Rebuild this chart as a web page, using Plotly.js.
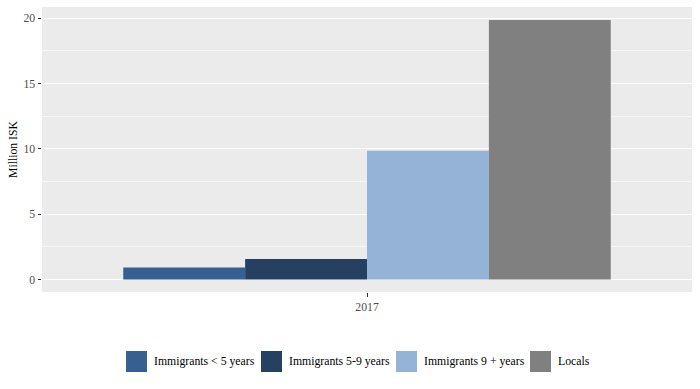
<!DOCTYPE html>
<html>
<head>
<meta charset="utf-8">
<script src="https://cdn.plot.ly/plotly-3.0.1.min.js"></script>
<style>html,body{margin:0;padding:0;background:#fff;}#chart{width:700px;height:389px;}</style>
</head>
<body>
<div id="chart"></div>
<script>
const categories = ["2017"];
const seriesNames = ["Immigrants < 5 years", "Immigrants 5-9 years", "Immigrants 9 + years", "Locals"];
const seriesValues = [[0.92], [1.58], [9.85], [19.87]];
const seriesColors = ["#366092", "#254061", "#95B3D7", "#808080"];
const yTickVals = [0, 5, 10, 15, 20];
const yTickText = ["0", "5", "10", "15", "20"];

const W = 700, H = 389;
const M = {l: 42, r: 8, t: 7, b: 97};
const pw = W - M.l - M.r, ph = H - M.t - M.b;
const FONT = "Liberation Serif";
const FS = 11.75;

const traces = seriesNames.map((n, i) => ({
  type: "bar",
  name: n,
  x: categories,
  y: seriesValues[i],
  marker: {color: seriesColors[i], line: {width: 0}},
  showlegend: false,
  hoverinfo: "name+y"
}));

// custom ggplot-like legend
const keyX = [126, 261, 396, 530];
const keyW = 21, keyTop = 351, keyBot = 372;
const px2x = p => (p - M.l) / pw;
const py2y = p => (H - M.b - p) / ph;
const shapes = [], annotations = [];
seriesNames.forEach((n, i) => {
  shapes.push({type: "rect", xref: "paper", yref: "paper",
    x0: px2x(keyX[i]), x1: px2x(keyX[i] + keyW), y0: py2y(keyBot), y1: py2y(keyTop),
    fillcolor: seriesColors[i], line: {width: 0}});
  annotations.push({xref: "paper", yref: "paper", x: px2x(keyX[i] + keyW + 5), y: py2y((keyTop + keyBot) / 2),
    xanchor: "left", yanchor: "middle", text: n, showarrow: false,
    font: {family: FONT, size: FS, color: "#000"}});
});

const layout = {
  width: W, height: H,
  margin: M,
  paper_bgcolor: "#fff",
  plot_bgcolor: "#EBEBEB",
  barmode: "group",
  bargap: 0.1,
  bargroupgap: 0,
  font: {family: FONT, size: FS, color: "#4D4D4D"},
  xaxis: {
    type: "category",
    range: [-0.6, 0.6],
    showgrid: false, zeroline: false, showline: false,
    ticks: "outside", ticklen: 3.5, tickwidth: 1, tickcolor: "#333",
    tickfont: {family: FONT, size: FS, color: "#4D4D4D"},
    fixedrange: true
  },
  yaxis: {
    range: [-0.95, 20.86],
    tickvals: yTickVals, ticktext: yTickText,
    showgrid: true, gridcolor: "#FFFFFF", gridwidth: 1.1,
    zeroline: false, showline: false,
    ticks: "outside", ticklen: 3.5, tickwidth: 1, tickcolor: "#333",
    tickfont: {family: FONT, size: FS, color: "#4D4D4D"},
    minor: {dtick: 2.5, tick0: 0, showgrid: true, gridcolor: "#FFFFFF", gridwidth: 0.55, ticks: ""},
    title: {text: "Million ISK", font: {family: FONT, size: FS, color: "#000"}, standoff: 3},
    fixedrange: true
  },
  shapes: shapes,
  annotations: annotations
};

Plotly.newPlot("chart", traces, layout, {displayModeBar: false, staticPlot: true});
</script>
</body>
</html>
